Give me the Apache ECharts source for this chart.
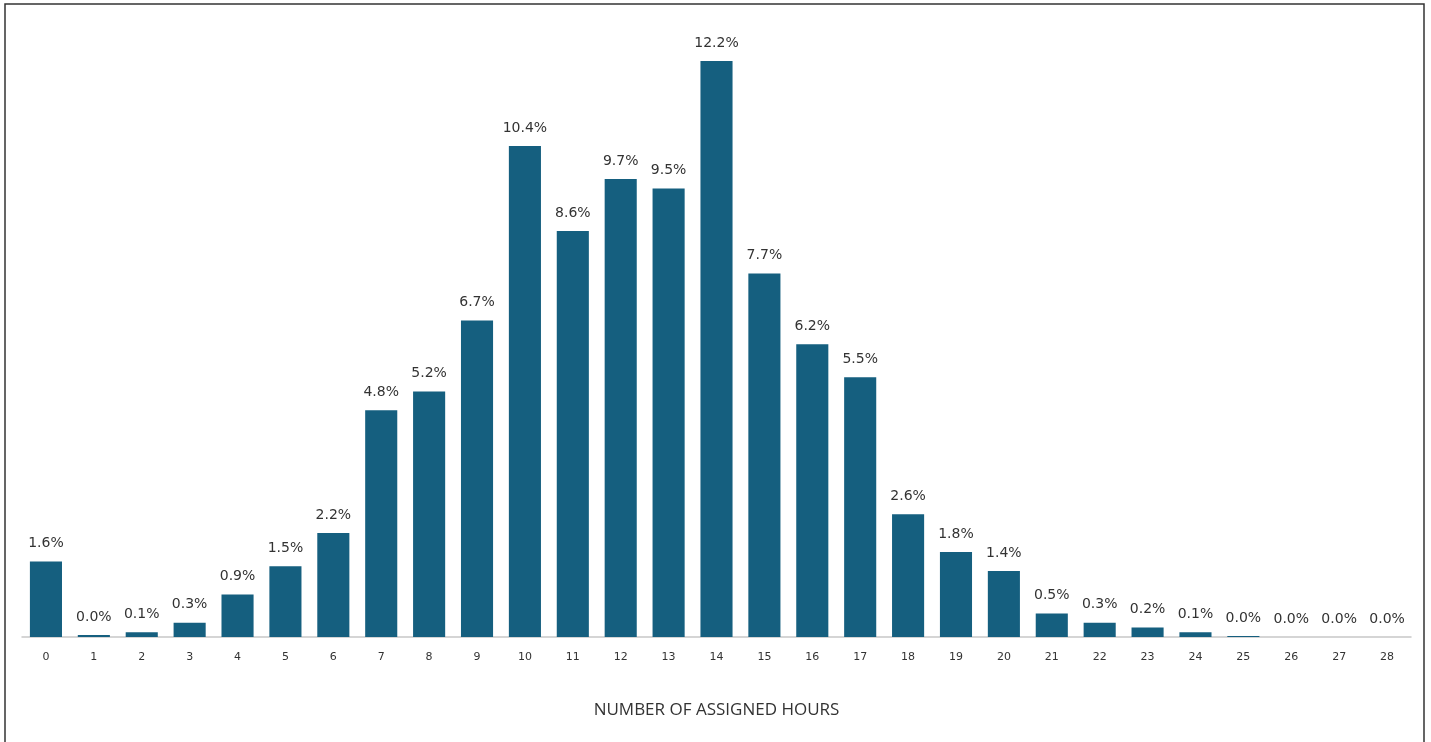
<!DOCTYPE html>
<html>
<head>
<meta charset="utf-8">
<script src="https://cdn.jsdelivr.net/npm/echarts@6/dist/echarts.min.js"></script>
<style>
html,body{margin:0;padding:0;background:#fff;}
#chart{width:1431px;height:742px;}
</style>
</head>
<body>
<div id="chart"></div>
<script>
// hours assigned 0..28
var hours = ['0','1','2','3','4','5','6','7','8','9','10','11','12','13','14','15','16','17','18','19','20','21','22','23','24','25','26','27','28'];
// share of staff, percent
var shares = [1.6, 0.04, 0.1, 0.3, 0.9, 1.5, 2.2, 4.8, 5.2, 6.7, 10.4, 8.6, 9.7, 9.5, 12.2, 7.7, 6.2, 5.5, 2.6, 1.8, 1.4, 0.5, 0.3, 0.2, 0.1, 0.02, 0, 0, 0];

var myChart = echarts.init(document.getElementById('chart'));
var option = {
    animation: false,
    graphic: [{
        type: 'rect',
        shape: {x: 5, y: 4, width: 1419, height: 760},
        style: {fill: 'none', stroke: '#333', lineWidth: 1.5}
    }],
    grid: {left: 22, right: 20, top: 42, bottom: 105},
    xAxis: {
        type: 'category',
        data: hours,
        name: 'NUMBER OF ASSIGNED HOURS',
        nameLocation: 'middle',
        nameGap: 65,
        nameTextStyle: {fontFamily: 'Open Sans', fontSize: 17, color: '#333'},
        axisLine: {lineStyle: {color: '#c8c8c8', width: 1.5}},
        axisTick: {show: false},
        axisLabel: {fontFamily: 'DejaVu Sans', fontSize: 11, color: '#333', margin: 15}
    },
    yAxis: {
        type: 'value',
        min: 0,
        max: 12.6,
        show: false,
        splitLine: {show: false}
    },
    series: [{
        type: 'bar',
        data: shares,
        barCategoryGap: '33%',
        itemStyle: {color: '#155f7f'},
        label: {
            show: true,
            position: 'top',
            distance: 11,
            fontFamily: 'DejaVu Sans',
            fontSize: 14,
            color: '#333',
            formatter: function (p) { return p.value.toFixed(1) + '%'; }
        }
    }]
};
myChart.setOption(option);
</script>
</body>
</html>
